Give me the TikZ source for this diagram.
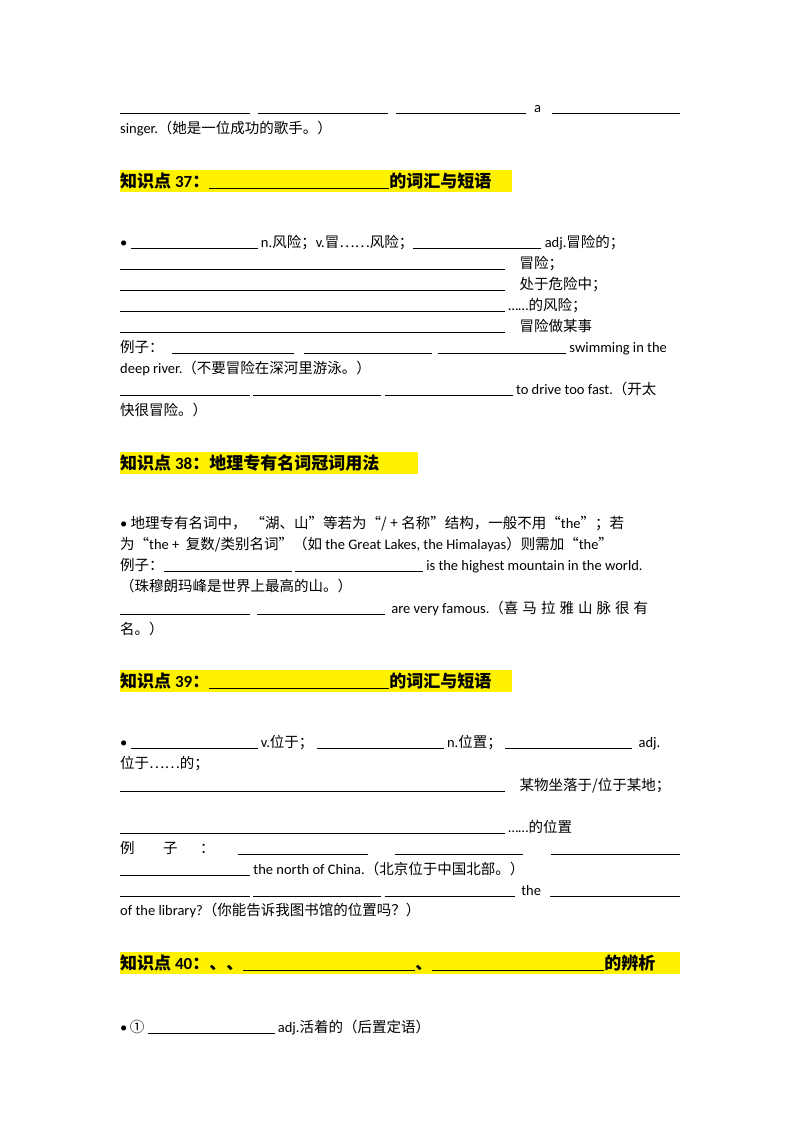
\documentclass[tikz,border=0pt]{standalone}
\usepackage{fontspec}
\setmainfont{Carlito}
\newfontfamily\cjk{Noto Sans CJK SC}
\newcommand\zh[1]{{\cjk #1}}
\newcommand\bl[1]{\rule[-1.5pt]{#1pt}{0.6pt}}
\begin{document}
\begin{tikzpicture}[x=1pt,y=-1pt,
  t/.style={anchor=base west,inner sep=0pt,font=\fontsize{14.5}{15}\selectfont},
  hl/.style={fill=yellow,draw=none},
  hd/.style={anchor=base west,inner sep=0pt,font=\fontsize{17}{17}\bfseries\selectfont}]
\useasboundingbox (0,0) rectangle (800,1132);
\fill[white] (0,0) rectangle (800,1132);
% top
\node[t] (a1) at (120,112) {\bl{130}};
\node[t] (a2) at (258,112) {\bl{130}};
\node[t] (a3) at (396,112) {\bl{130}};
\node[t] (a4) at (534,112) {a};
\node[t] (a5) at (552,112) {\bl{128}};
\node[t] (a6) at (120,133) {singer.\zh{（她是一位成功的歌手。）}};
% heading 37
\fill[hl] (120,170) rectangle (512,192);
\node[hd] (h37) at (120,187) {\zh{\bfseries 知识点 }37\zh{\bfseries ：}\bl{180}\zh{\bfseries 的词汇与短语}};
\node[t] (b1) at (120,247) {•\ \bl{127}\ n.\zh{风险；}v.\zh{冒……风险；}\bl{128}\ adj.\zh{冒险的；}};
\node[t] (b2) at (120,268) {\bl{385}\quad\zh{冒险；}};
\node[t] (b3) at (120,289) {\bl{385}\quad\zh{处于危险中；}};
\node[t] (b4) at (120,310) {\bl{385}\ ……\zh{的风险；}};
\node[t] (b5) at (120,331) {\bl{385}\quad\zh{冒险做某事}};
\node[t] (b6) at (120,352) {\zh{例子：}};
\node[t] (b7) at (172,352) {\bl{122}};
\node[t] (b8) at (304,352) {\bl{128}};
\node[t] (b9) at (438,352) {\bl{128} swimming in the};
\node[t] (b10) at (120,373) {deep river.\zh{（不要冒险在深河里游泳。）}};
\node[t] (b11) at (120,394) {\bl{130}\ \bl{128}\ \bl{128}\ to drive too fast.\zh{（开太}};
\node[t] (b12) at (120,415) {\zh{快很冒险。）}};
% heading 38
\fill[hl] (120,452) rectangle (418,474);
\node[hd] (h38) at (120,469) {\zh{\bfseries 知识点 }38\zh{\bfseries ：地理专有名词冠词用法}};
\node[t] (c1) at (120,528) {•\ \zh{地理专有名词中，\;“湖、山”等若为“/ + 名称”结构，一般不用“}the\zh{”；若}};
\node[t] (c2) at (120,549) {\zh{为“}the + \ \zh{复数/类别名词”（如 }the Great Lakes, the Himalayas\zh{）则需加“}the\zh{”}};
\node[t] (c3) at (120,570) {\zh{例子：}\bl{128}\ \bl{128}\ is the highest mountain in the world.};
\node[t] (c4) at (120,591) {\zh{（珠穆朗玛峰是世界上最高的山。）}};
\node[t] (c5) at (120,613) {\bl{130}\ \ \bl{128}\ \ are very famous.\zh{（喜\;马\;拉\;雅\;山\;脉\;很\;有}};
\node[t] (c6) at (120,634) {\zh{名。）}};
% heading 39
\fill[hl] (120,670) rectangle (512,692);
\node[hd] (h39) at (120,687) {\zh{\bfseries 知识点 }39\zh{\bfseries ：}\bl{180}\zh{\bfseries 的词汇与短语}};
\node[t] (d1) at (120,747) {•\ \bl{127}\ v.\zh{位于；}\ \bl{127}\ n.\zh{位置；}\ \bl{127}\ \ adj.};
\node[t] (d2) at (120,768) {\zh{位于……的；}};
\node[t] (d3) at (120,790) {\bl{385}\quad\zh{某物坐落于/位于某地；}};
\node[t] (d4) at (120,832) {\bl{385}\ ……\zh{的位置}};
\node[t] (d5) at (120,853) {\zh{例}};
\node[t] (d6) at (163,853) {\zh{子}};
\node[t] (d7) at (200,853) {\zh{：}};
\node[t] (d8) at (238,853) {\bl{130}};
\node[t] (d9) at (395,853) {\bl{128}};
\node[t] (d10) at (551,853) {\bl{129}};
\node[t] (d11) at (120,874) {\bl{130}\ the north of China.\zh{（北京位于中国北部。）}};
\node[t] (d12) at (120,895) {\bl{130}\ \bl{128}\ \bl{130}\ \ the};
\node[t] (d13) at (550,895) {\bl{130}};
\node[t] (d14) at (120,915) {of the library?\zh{（你能告诉我图书馆的位置吗？）}};
% heading 40
\fill[hl] (120,952) rectangle (680,974);
\node[hd] (h40) at (120,969) {\zh{\bfseries 知识点 }40\zh{\bfseries ：、、}\bl{172}\zh{\bfseries 、}\bl{172}\zh{\bfseries 的辨析}};
\node[t] (e1) at (120,1032) {•\,\zh{①}\ \bl{127}\ adj.\zh{活着的（后置定语）}};
\end{tikzpicture}
\end{document}
